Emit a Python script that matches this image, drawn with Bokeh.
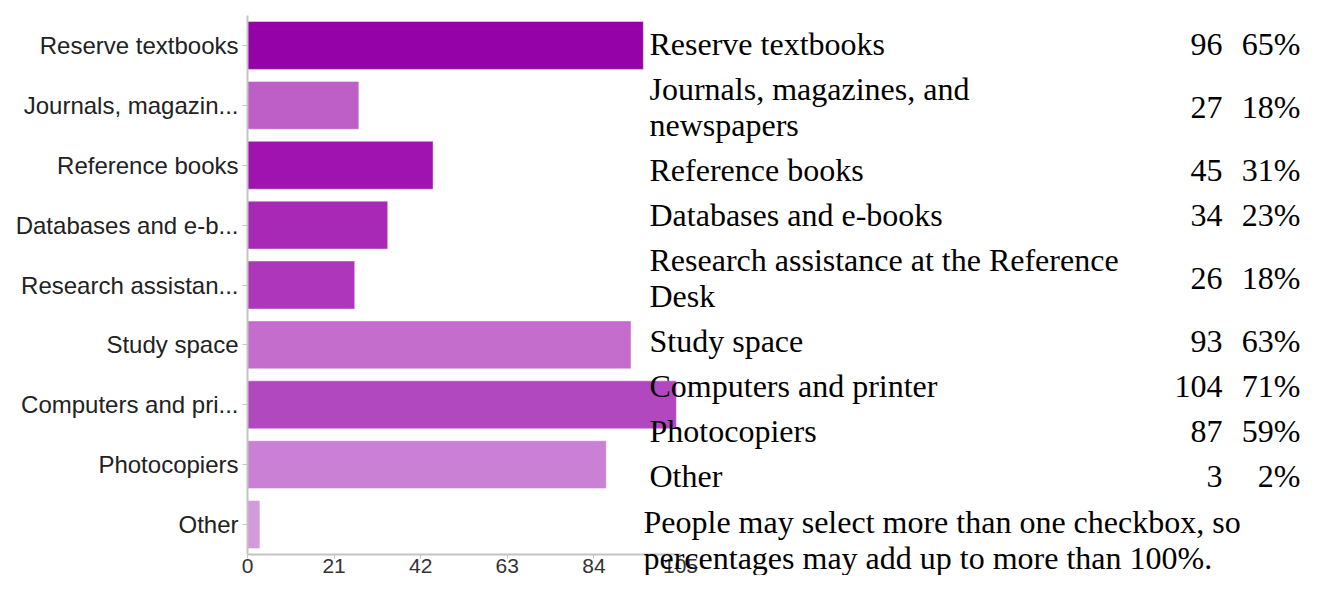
from bokeh.plotting import figure
from bokeh.models import ColumnDataSource, Range1d, FixedTicker
from bokeh.layouts import column
from bokeh.core.properties import value
from bokeh.embed import file_html
from bokeh.resources import INLINE

# ---------------- data ----------------
axis_labels = ["Reserve textbooks", "Journals, magazin...", "Reference books",
               "Databases and e-b...", "Research assistan...", "Study space",
               "Computers and pri...", "Photocopiers", "Other"]
table_names = [["Reserve textbooks"],
               ["Journals, magazines, and", "newspapers"],
               ["Reference books"],
               ["Databases and e-books"],
               ["Research assistance at the Reference", "Desk"],
               ["Study space"],
               ["Computers and printer"],
               ["Photocopiers"],
               ["Other"]]
counts = [96, 27, 45, 34, 26, 93, 104, 87, 3]
percents = ["65%", "18%", "31%", "23%", "18%", "63%", "71%", "59%", "2%"]
bar_colors = ["#9503a8", "#bd5fc6", "#a013b1", "#a929b7", "#ae36ba",
              "#c46dcc", "#b148c0", "#ca80d4", "#d698de"]
x_ticks = [0, 21, 42, 63, 84, 105]
note_lines = ["People may select more than one checkbox, so",
              "percentages may add up to more than 100%."]

# ---------------- layout constants (canvas pixels) ----------------
W, H = 1302, 575
FRAME_L, FRAME_R, FRAME_T, FRAME_B = 247, 1302, 15, 555
AXIS_MAX_PX = 680            # where 105 sits on the canvas
X_END = x_ticks[-1] * (FRAME_R - FRAME_L) / (AXIS_MAX_PX - FRAME_L)

TABLE_TOP, ROW_H, LINE_H = 21, 45, 36
NAME_X, COUNT_X, PCT_X, NOTE_X = 649, 1222, 1300, 643
SERIF = "Liberation Serif"
SANS = "Liberation Sans"

n = len(axis_labels)
ypos = [n - 1 - i for i in range(n)]   # first category at the top

# ---------------- bar chart ----------------
p = figure(width=W, height=H, output_backend="svg", toolbar_location=None,
           y_range=Range1d(-0.5, n - 0.5),
           x_range=Range1d(0, X_END),
           min_border_left=FRAME_L, min_border_right=W - FRAME_R,
           min_border_top=FRAME_T, min_border_bottom=H - FRAME_B)
p.outline_line_color = None
p.xgrid.grid_line_color = None
p.ygrid.grid_line_color = None

src = ColumnDataSource(dict(y=ypos, count=counts, color=bar_colors))
p.hbar(y="y", left=0, right="count", height=0.8, source=src,
       fill_color="color", line_color="white", line_alpha=0.45, line_width=1)

xa = p.xaxis[0]
xa.ticker = FixedTicker(ticks=x_ticks)
xa.bounds = (x_ticks[0], x_ticks[-1])
xa.axis_line_color = "#c4c4c4"
xa.axis_line_width = 2
xa.major_tick_line_color = "#c4c4c4"
xa.major_tick_in = 0
xa.major_tick_out = 4
xa.minor_tick_line_color = None
xa.major_label_standoff = 0
xa.major_label_text_font = SANS
xa.major_label_text_font_size = "21px"
xa.major_label_text_color = "#333333"

ya = p.yaxis[0]
ya.ticker = FixedTicker(ticks=ypos)
ya.major_label_overrides = {y: lab for y, lab in zip(ypos, axis_labels)}
ya.axis_line_color = "#c4c4c4"
ya.axis_line_width = 2
ya.major_tick_line_color = "#c4c4c4"
ya.major_tick_in = 0
ya.major_tick_out = 5
ya.minor_tick_line_color = None
ya.major_label_standoff = 4
ya.major_label_text_font = SANS
ya.major_label_text_font_size = "24px"
ya.major_label_text_color = "#222222"

# ---------------- side table (transparent overlay, pixel coordinates) ----------------
# the column aligns this figure's frame left edge with the bar chart's frame
t = figure(width=W, height=H, output_backend="svg", toolbar_location=None,
           x_range=Range1d(FRAME_L, W), y_range=Range1d(H, 0),
           x_axis_location=None, y_axis_location=None,
           min_border=0, min_border_left=0, min_border_right=0,
           min_border_top=0, min_border_bottom=0,
           styles={"position": "absolute", "left": "0px", "top": "0px"})
t.outline_line_color = None
t.grid.grid_line_color = None
t.background_fill_alpha = 0
t.border_fill_alpha = 0

name_x, name_y, name_t = [], [], []
num_y = []
top = TABLE_TOP
for lines in table_names:
    h = ROW_H + LINE_H * (len(lines) - 1)
    center = top + h / 2
    first = center - LINE_H * (len(lines) - 1) / 2
    for i, s in enumerate(lines):
        name_x.append(NAME_X)
        name_y.append(first + i * LINE_H)
        name_t.append(s)
    num_y.append(center)
    top += h
note_y0 = top + 23
for i, s in enumerate(note_lines):
    name_x.append(NOTE_X)
    name_y.append(note_y0 + i * LINE_H)
    name_t.append(s)

common = dict(text_font=value(SERIF), text_font_size="32px",
              text_color="#000000", text_baseline="middle")
t.text(x=name_x, y=name_y, text=name_t, text_align="left", **common)
t.text(x=[COUNT_X] * len(counts), y=num_y, text=[str(c) for c in counts],
       text_align="right", **common)
t.text(x=[PCT_X] * len(percents), y=num_y, text=percents,
       text_align="right", **common)

layout = column(p, t, styles={"position": "relative"})

open("out.html", "w").write(file_html(layout, INLINE))
